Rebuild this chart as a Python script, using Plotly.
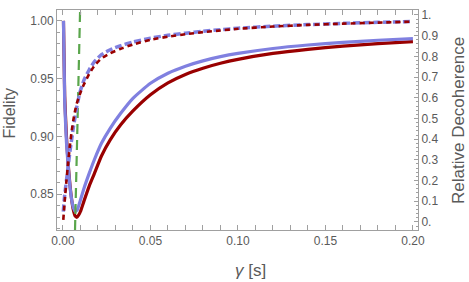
import plotly.graph_objects as go

# ---------------- data ----------------
gamma_fid = [0.0003, 0.001, 0.002, 0.003, 0.004, 0.005, 0.006, 0.007, 0.008, 0.009,
             0.010, 0.012, 0.015, 0.018, 0.022, 0.027, 0.033, 0.040, 0.050, 0.060,
             0.070, 0.080, 0.090, 0.100, 0.120, 0.140, 0.160, 0.180, 0.200]
fid_blue = [1.000, 0.930, 0.895, 0.874, 0.857, 0.845, 0.838, 0.835, 0.836, 0.840,
            0.845, 0.855, 0.868, 0.880, 0.894, 0.907, 0.920, 0.933, 0.946, 0.9547,
            0.9608, 0.9654, 0.969, 0.9718, 0.9761, 0.9791, 0.9814, 0.9832, 0.9846]
fid_red = [1.000, 0.935, 0.900, 0.876, 0.858, 0.845, 0.836, 0.831, 0.830, 0.832,
           0.835, 0.844, 0.857, 0.868, 0.883, 0.897, 0.910, 0.922, 0.936, 0.9463,
           0.9536, 0.959, 0.9633, 0.9667, 0.9718, 0.9754, 0.9782, 0.9803, 0.982]

gamma_dec = [0.0002, 0.001, 0.002, 0.003, 0.004, 0.005, 0.006, 0.007, 0.008, 0.009,
             0.010, 0.012, 0.015, 0.018, 0.022, 0.027, 0.033, 0.040, 0.050, 0.060,
             0.070, 0.080, 0.090, 0.100, 0.120, 0.140, 0.160, 0.180, 0.200]
dec_blue = [0.05, 0.13, 0.20, 0.27, 0.34, 0.40, 0.46, 0.51, 0.56, 0.60,
            0.635, 0.685, 0.735, 0.775, 0.808, 0.832, 0.852, 0.869, 0.888, 0.902,
            0.912, 0.921, 0.929, 0.936, 0.946, 0.9535, 0.9595, 0.9645, 0.969]
dec_red = [0.01, 0.10, 0.20, 0.29, 0.37, 0.44, 0.495, 0.54, 0.575, 0.60,
           0.625, 0.665, 0.715, 0.755, 0.79, 0.815, 0.837, 0.857, 0.880, 0.895,
           0.907, 0.917, 0.925, 0.933, 0.944, 0.952, 0.958, 0.963, 0.968]

marker_gamma = [0.0069, 0.0098]
marker_fid = [0.819, 1.0094]

x_ticks = [0.00, 0.05, 0.10, 0.15, 0.20]
x_ticktext = ["0.00", "0.05", "0.10", "0.15", "0.20"]
yl_ticks = [0.85, 0.90, 0.95, 1.00]
yl_ticktext = ["0.85", "0.90", "0.95", "1.00"]
yr_ticks = [0, 0.1, 0.2, 0.3, 0.4, 0.5, 0.6, 0.7, 0.8, 0.9, 1.0]
yr_ticktext = ["0.", "0.1", "0.2", "0.3", "0.4", "0.5", "0.6", "0.7", "0.8", "0.9", "1."]

# ---------------- style ----------------
BLUE = "#8080e0"
RED = "#990000"
GREEN = "#5aa64c"
AXIS = "#a0a0a0"
TXT = "#5a5a5a"
FONT = "Liberation Sans, Arial, sans-serif"

fig = go.Figure()

fig.add_trace(go.Scatter(x=gamma_fid, y=fid_red, mode="lines", yaxis="y",
                         line=dict(color=RED, width=3.2, shape="spline", smoothing=0.5)))
fig.add_trace(go.Scatter(x=gamma_fid, y=fid_blue, mode="lines", yaxis="y",
                         line=dict(color=BLUE, width=3.2, shape="spline", smoothing=0.5)))
fig.add_trace(go.Scatter(x=gamma_dec, y=dec_blue, mode="lines", yaxis="y2",
                         line=dict(color=BLUE, width=3.5, dash="7px,3px", shape="spline", smoothing=0.5)))
fig.add_trace(go.Scatter(x=gamma_dec, y=dec_red, mode="lines", yaxis="y2",
                         line=dict(color=RED, width=2.6, dash="5px,4px", shape="spline", smoothing=0.5)))
fig.add_trace(go.Scatter(x=marker_gamma, y=marker_fid, mode="lines", yaxis="y",
                         line=dict(color=GREEN, width=2.2, dash="10px,6px")))

tickfont = dict(family=FONT, size=12, color=TXT)

fig.update_layout(
    width=469, height=282,
    margin=dict(l=57, r=51, t=8, b=52),
    paper_bgcolor="white", plot_bgcolor="white",
    showlegend=False,
    xaxis=dict(range=[-0.0034, 0.2029], tickvals=x_ticks, ticktext=x_ticktext,
               showgrid=False, zeroline=False, showline=True, linecolor=AXIS, linewidth=1,
               mirror="allticks", ticks="inside", ticklen=5, tickcolor=AXIS, tickwidth=1,
               minor=dict(ticks="inside", dtick=0.01, ticklen=2.5, tickcolor=AXIS, showgrid=False),
               tickfont=tickfont),
    yaxis=dict(range=[0.819, 1.0094], tickvals=yl_ticks, ticktext=yl_ticktext,
               showgrid=False, zeroline=False, showline=True, linecolor=AXIS, linewidth=1,
               ticks="inside", ticklen=5, tickcolor=AXIS, tickwidth=1,
               minor=dict(ticks="inside", dtick=0.01, tick0=0.8, ticklen=2.5, tickcolor=AXIS, showgrid=False),
               tickfont=tickfont),
    yaxis2=dict(range=[-0.039, 1.024], tickvals=yr_ticks, ticktext=yr_ticktext,
                overlaying="y", side="right",
                showgrid=False, zeroline=False, showline=True, linecolor=AXIS, linewidth=1,
                ticks="inside", ticklen=4, tickcolor=AXIS, tickwidth=1,
                minor=dict(ticks="inside", dtick=0.02, tick0=0, ticklen=2, tickcolor=AXIS, showgrid=False),
                tickfont=dict(family=FONT, size=12, color=TXT)),
    annotations=[
        dict(text="Fidelity", xref="paper", yref="paper", x=-0.1316, y=0.5315,
             xanchor="center", yanchor="middle", textangle=-90, showarrow=False,
             font=dict(family=FONT, size=16, color=TXT)),
        dict(text="Relative Decoherence", xref="paper", yref="paper", x=1.1136, y=0.4955,
             xanchor="center", yanchor="middle", textangle=-90, showarrow=False,
             font=dict(family=FONT, size=17, color=TXT)),
        dict(text="<i>γ</i> [s]", xref="paper", yref="paper", x=0.537, y=-0.1847,
             xanchor="center", yanchor="middle", showarrow=False,
             font=dict(family=FONT, size=17, color=TXT)),
    ],
)

fig.write_html("out.html", config={"displayModeBar": False},
               post_script="document.body.style.margin='0px';document.body.style.padding='0px';")
